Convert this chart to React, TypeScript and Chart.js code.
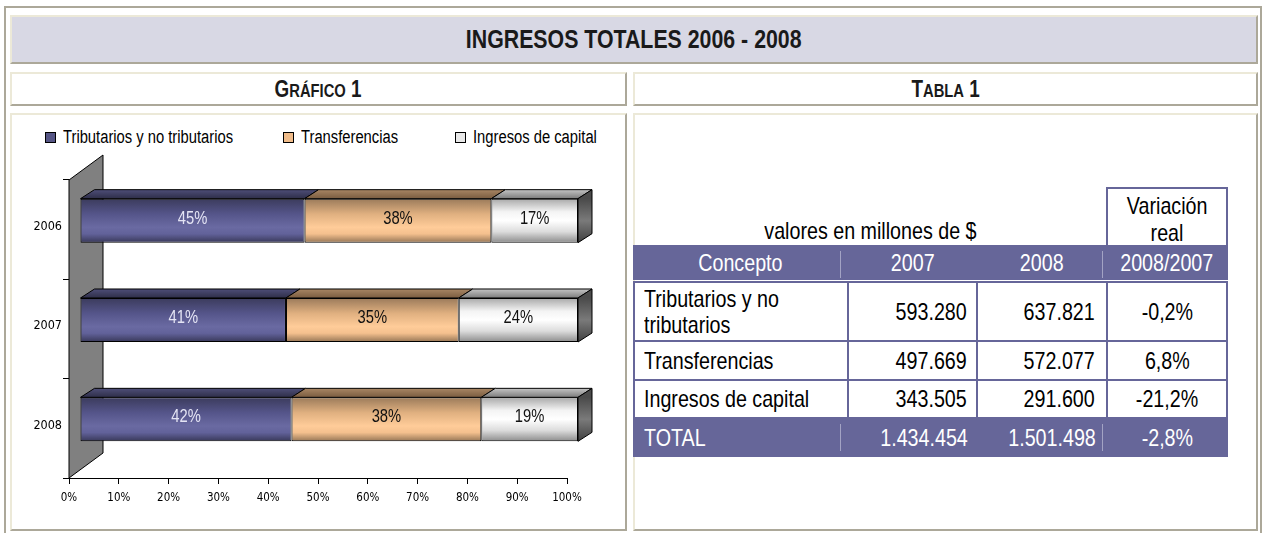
import React, { useEffect, useRef } from 'react';
import { Chart, registerables } from 'chart.js';

Chart.register(...registerables);

// ---------------- data ----------------
const YEARS = ['2006', '2007', '2008'];
const SERIES_NAMES = ['Tributarios y no tributarios', 'Transferencias', 'Ingresos de capital'];
const TRIBUTARIOS_PCT = [45.1, 41.36, 42.48];
const TRANSFERENCIAS_PCT = [37.5, 34.69, 38.1];
const CAPITAL_PCT = [17.4, 23.95, 19.42];
const X_MIN = 0;
const X_MAX = 100;
const X_STEP = 10;

const TABLE_HEAD = ['Concepto', '2007', '2008', '2008/2007'];
const TABLE_CONCEPTS = [['Tributarios y no', 'tributarios'], ['Transferencias'], ['Ingresos de capital']];
const VALUES_2007 = ['593.280', '497.669', '343.505'];
const VALUES_2008 = ['637.821', '572.077', '291.600'];
const VARIATION = ['-0,2%', '6,8%', '-21,2%'];
const TOTAL_ROW = ['TOTAL', '1.434.454', '1.501.498', '-2,8%'];

// ---------------- style ----------------
const SANS = "'Liberation Sans', Arial, sans-serif";
const COND = "'DejaVu Sans Condensed', 'DejaVu Sans', sans-serif";
const SQUEEZE = 0.82; // Arial Narrow ≈ Arial compressed horizontally
const PURPLE = '#666699';
const LIGHT = '#ECE9D8';
const SHADOW = '#ACA899';
const BAR_PCT = 0.443;

const FRONT_STOPS: [number, string][][] = [
  [[0, '#3b3b5c'], [0.35, '#55558a'], [0.65, '#6a6aa2'], [0.8, '#62629a'], [1, '#383858']],
  [[0, '#9a7a5a'], [0.35, '#e0b080'], [0.65, '#ffcc99'], [0.8, '#f4c08e'], [1, '#957555']],
  [[0, '#a8a8a8'], [0.3, '#f4f4f4'], [0.5, '#ffffff'], [0.75, '#dcdcdc'], [1, '#8c8c8c']],
];
const TOP_STOPS: [string, string][] = [
  ['#2e2e48', '#4e4e78'],
  ['#7a5c40', '#a88664'],
  ['#7c7c7c', '#c4c4c4'],
];
const LEGEND_FILL = ['#555585', '#f0bc8a', '#e8e8e8'];
const LABEL_COLORS = ['#e4e4f4', '#111111', '#111111'];

// 3D geometry (pixels)
const SHIFT_X = 11;
const SHIFT_Y = -9;
const DEPTH_X = 14;
const DEPTH_Y = -9;
const WALL_X = 34;
const WALL_Y = -25;

function frontFill(stops: [number, string][]) {
  return (c: any) => {
    const chart = c.chart;
    const ys = chart.scales && chart.scales.y;
    if (!ys || c.dataIndex === undefined || !chart.chartArea) return stops[2][1];
    const center = ys.getPixelForValue(c.dataIndex);
    const half = (ys.height / YEARS.length) * BAR_PCT / 2;
    const g = chart.ctx.createLinearGradient(0, center - half, 0, center + half);
    for (const [o, col] of stops) g.addColorStop(o, col);
    return g;
  };
}

const bar3d = {
  id: 'bar3d',
  beforeDatasetsDraw(chart: any) {
    const { ctx, chartArea: a } = chart;
    ctx.save();
    ctx.beginPath();
    ctx.moveTo(a.left, a.top);
    ctx.lineTo(a.left + WALL_X, a.top + WALL_Y);
    ctx.lineTo(a.left + WALL_X, a.bottom + WALL_Y);
    ctx.lineTo(a.left, a.bottom);
    ctx.closePath();
    ctx.fillStyle = '#808080';
    ctx.fill();
    ctx.strokeStyle = '#000';
    ctx.lineWidth = 1;
    ctx.stroke();
    ctx.restore();
    ctx.save();
    ctx.translate(SHIFT_X, SHIFT_Y);
  },
  afterDatasetsDraw(chart: any) {
    const ctx = chart.ctx;
    const n = chart.data.datasets.length;
    for (let d = 0; d < n; d++) {
      const meta = chart.getDatasetMeta(d);
      meta.data.forEach((bar: any) => {
        const p = bar.getProps(['x', 'y', 'base', 'height'], true);
        const top = p.y - p.height / 2;
        const bottom = p.y + p.height / 2;
        const left = Math.min(p.base, p.x);
        const right = Math.max(p.base, p.x);
        const g = ctx.createLinearGradient(0, top, 0, top + DEPTH_Y);
        g.addColorStop(0, TOP_STOPS[d][0]);
        g.addColorStop(1, TOP_STOPS[d][1]);
        ctx.beginPath();
        ctx.moveTo(left, top);
        ctx.lineTo(left + DEPTH_X, top + DEPTH_Y);
        ctx.lineTo(right + DEPTH_X, top + DEPTH_Y);
        ctx.lineTo(right, top);
        ctx.closePath();
        ctx.fillStyle = g;
        ctx.fill();
        ctx.strokeStyle = '#000';
        ctx.lineWidth = 1;
        ctx.stroke();
        if (d === n - 1) {
          const s = ctx.createLinearGradient(0, top, 0, bottom);
          s.addColorStop(0, '#4a4a4a');
          s.addColorStop(0.5, '#7a7a7a');
          s.addColorStop(1, '#404040');
          ctx.beginPath();
          ctx.moveTo(right, top);
          ctx.lineTo(right + DEPTH_X, top + DEPTH_Y);
          ctx.lineTo(right + DEPTH_X, bottom + DEPTH_Y);
          ctx.lineTo(right, bottom);
          ctx.closePath();
          ctx.fillStyle = s;
          ctx.fill();
          ctx.stroke();
        }
      });
    }
    // value labels (narrow face: Arial metrics squeezed horizontally)
    ctx.font = `18px ${SANS}`;
    ctx.textAlign = 'center';
    ctx.textBaseline = 'middle';
    for (let d = 0; d < n; d++) {
      const meta = chart.getDatasetMeta(d);
      const vals = chart.data.datasets[d].data;
      meta.data.forEach((bar: any, i: number) => {
        const p = bar.getProps(['x', 'y', 'base'], true);
        ctx.save();
        ctx.translate((p.x + p.base) / 2, p.y - 2);
        ctx.scale(SQUEEZE, 1);
        ctx.fillStyle = LABEL_COLORS[d];
        ctx.fillText(Math.round(vals[i]) + '%', 0, 0);
        ctx.restore();
      });
    }
    ctx.restore();
  },
};

function BarChart() {
  const ref = useRef<HTMLCanvasElement | null>(null);
  useEffect(() => {
    if (!ref.current) return;
    const seriesData = [TRIBUTARIOS_PCT, TRANSFERENCIAS_PCT, CAPITAL_PCT];
    const chart = new Chart(ref.current, {
      type: 'bar',
      data: {
        labels: YEARS,
        datasets: seriesData.map((data, i) => ({
          label: SERIES_NAMES[i],
          data,
          backgroundColor: frontFill(FRONT_STOPS[i]),
          borderColor: '#000',
          borderWidth: 1,
          borderSkipped: false,
          barPercentage: BAR_PCT,
          categoryPercentage: 1,
        })),
      },
      options: {
        indexAxis: 'y',
        responsive: false,
        animation: false,
        events: [],
        layout: { padding: { left: 0, right: 58, top: 66, bottom: 12 } },
        plugins: { legend: { display: false }, tooltip: { enabled: false } },
        scales: {
          x: {
            stacked: true,
            min: X_MIN,
            max: X_MAX,
            afterFit: (s: any) => { s.height = 40; },
            ticks: {
              stepSize: X_STEP,
              callback: (v: any) => v + '%',
              color: '#000',
              font: { family: COND, size: 11.5 },
              padding: 7,
              maxRotation: 0,
            },
            grid: { drawOnChartArea: false, color: '#000', tickLength: 6, tickWidth: 1 },
            border: { display: true, color: '#000', width: 1 },
          },
          y: {
            stacked: true,
            afterFit: (s: any) => { s.width = 58; },
            ticks: {
              color: '#000',
              font: { family: COND, size: 12.5 },
              padding: 1,
              labelOffset: -3,
            },
            grid: { drawOnChartArea: false, offset: true, color: '#000', tickLength: 6, tickWidth: 1 },
            border: { display: false },
          },
        },
      },
      plugins: [bar3d],
    });
    return () => chart.destroy();
  }, []);
  return (
    <canvas
      ref={ref}
      width={614}
      height={416}
      style={{ position: 'absolute', left: 11, top: 114, width: 614, height: 416 }}
    />
  );
}

function Narrow(props: { children: any; origin?: string; style?: any }) {
  return (
    <span style={{ display: 'inline-block', whiteSpace: 'nowrap', transform: `scaleX(${SQUEEZE})`, transformOrigin: props.origin || 'center', ...props.style }}>
      {props.children}
    </span>
  );
}

function Box(props: { x: number; y: number; w: number; h: number; bg?: string; children?: any; style?: any }) {
  const { x, y, w, h, bg = '#fff', children, style } = props;
  return (
    <div
      style={{
        position: 'absolute', left: x, top: y, width: w, height: h, boxSizing: 'border-box', background: bg,
        borderTop: `2px solid ${LIGHT}`, borderLeft: `2px solid ${LIGHT}`,
        borderBottom: `2px solid ${SHADOW}`, borderRight: `2px solid ${SHADOW}`,
        display: 'flex', alignItems: 'center', justifyContent: 'center', ...style,
      }}
    >
      {children}
    </div>
  );
}

const LEGEND_X = [45, 283, 455];

function Legend() {
  return (
    <>
      {SERIES_NAMES.map((name, i) => (
        <div key={name} style={{ position: 'absolute', left: LEGEND_X[i], top: 126, height: 22, display: 'flex', alignItems: 'center', fontFamily: SANS, fontSize: 18, color: '#000', whiteSpace: 'nowrap' }}>
          <span style={{ display: 'inline-block', width: 9, height: 9, border: '1px solid #000', background: LEGEND_FILL[i], marginRight: 7 }} />
          <Narrow origin="left">{name}</Narrow>
        </div>
      ))}
    </>
  );
}

const COL_X = [634, 848, 977, 1107, 1227];
const ROW_Y = [282, 341, 380, 418];

function Table() {
  const txt = { fontFamily: SANS, fontSize: 24, lineHeight: '26px', color: '#000' };
  const cells: any[] = [];
  for (let r = 0; r < 3; r++) {
    for (let c = 0; c < 4; c++) {
      const x0 = COL_X[c], x1 = COL_X[c + 1], y0 = ROW_Y[r], y1 = ROW_Y[r + 1];
      const content = c === 0
        ? TABLE_CONCEPTS[r].map((l, k) => <div key={k}><Narrow origin="left">{l}</Narrow></div>)
        : <Narrow origin={c === 3 ? 'center' : 'right'}>{c === 1 ? VALUES_2007[r] : c === 2 ? VALUES_2008[r] : VARIATION[r]}</Narrow>;
      cells.push(
        <div key={r + '-' + c} style={{
          position: 'absolute', left: x0 - 1, top: y0 - 1, width: x1 - x0 + 2, height: y1 - y0 + 2, boxSizing: 'border-box',
          border: `2px solid ${PURPLE}`, display: 'flex', alignItems: 'center',
          justifyContent: c === 0 ? 'flex-start' : c === 3 ? 'center' : 'flex-end',
          paddingLeft: c === 0 ? 9 : 0, paddingRight: c === 1 ? 9 : c === 2 ? 11 : 0, ...txt,
        }}>
          <div>{content}</div>
        </div>,
      );
    }
  }
  const head = { ...txt, color: '#fff' };
  const sep = (x: number, y: number) => (
    <div style={{ position: 'absolute', left: x, top: y, width: 1, height: 27, background: '#a3a3c4' }} />
  );
  return (
    <>
      <div style={{ position: 'absolute', left: 633, top: 188, width: 474, height: 57, display: 'flex', alignItems: 'flex-end', justifyContent: 'center', boxSizing: 'border-box', ...txt }}>
        <Narrow style={{ marginBottom: 1 }}>valores en millones de $</Narrow>
      </div>
      <div style={{ position: 'absolute', left: 1106, top: 187, width: 122, height: 60, boxSizing: 'border-box', borderTop: `2px solid ${PURPLE}`, borderLeft: `2px solid ${PURPLE}`, borderRight: `2px solid ${PURPLE}`, textAlign: 'center', paddingTop: 3, ...txt, lineHeight: '27px' }}>
        <div><Narrow>Variación</Narrow></div>
        <div><Narrow>real</Narrow></div>
      </div>
      <div style={{ position: 'absolute', left: 633, top: 245, width: 595, height: 35, background: PURPLE }} />
      {TABLE_HEAD.map((h, i) => (
        <div key={h} style={{ position: 'absolute', left: i === 0 ? 633 : COL_X[i], top: 245, width: COL_X[i + 1] - (i === 0 ? 633 : COL_X[i]), height: 35, display: 'flex', alignItems: 'center', justifyContent: 'center', ...head }}>
          <Narrow>{h}</Narrow>
        </div>
      ))}
      {sep(840, 251)}
      {sep(1102, 251)}
      {cells}
      <div style={{ position: 'absolute', left: 633, top: 418, width: 595, height: 39, background: PURPLE }} />
      {TOTAL_ROW.map((t, i) => (
        <div key={t} style={{
          position: 'absolute', left: i === 0 ? 633 : COL_X[i], top: 418, width: COL_X[i + 1] - (i === 0 ? 633 : COL_X[i]), height: 39, boxSizing: 'border-box',
          display: 'flex', alignItems: 'center', justifyContent: i === 0 ? 'flex-start' : i === 3 ? 'center' : 'flex-end',
          paddingLeft: i === 0 ? 11 : 0, paddingRight: i === 1 ? 9 : i === 2 ? 11 : 0, ...head,
        }}>
          <Narrow origin={i === 0 ? 'left' : i === 3 ? 'center' : 'right'}>{t}</Narrow>
        </div>
      ))}
      {sep(840, 424)}
      {sep(1102, 424)}
    </>
  );
}

export default function App() {
  return (
    <div style={{ position: 'absolute', left: 0, top: 0, width: 1263, height: 533, overflow: 'hidden', background: '#fff', fontFamily: SANS }}>
      <div style={{ position: 'absolute', left: 4, top: 6, width: 1258, height: 560, boxSizing: 'border-box', borderTop: `2px solid ${SHADOW}`, borderLeft: `2px solid ${SHADOW}`, borderRight: `2px solid ${SHADOW}` }} />
      <Box x={10} y={15} w={1248} h={49} bg="#D8D8E4">
        <Narrow style={{ fontFamily: SANS, fontSize: 26, fontWeight: 'bold', color: '#1a1a1a' }}>INGRESOS TOTALES 2006 - 2008</Narrow>
      </Box>
      <Box x={10} y={72} w={617} h={34}>
        <Narrow style={{ fontFamily: SANS, fontWeight: 'bold', fontSize: 23, color: '#1a1a1a' }}>G<span style={{ fontSize: 18 }}>RÁFICO</span> 1</Narrow>
      </Box>
      <Box x={633} y={72} w={625} h={34}>
        <Narrow style={{ fontFamily: SANS, fontWeight: 'bold', fontSize: 23, color: '#1a1a1a' }}>T<span style={{ fontSize: 18 }}>ABLA</span> 1</Narrow>
      </Box>
      <Box x={10} y={113} w={617} h={418} />
      <Box x={633} y={113} w={625} h={418} />
      <Legend />
      <BarChart />
      <Table />
    </div>
  );
}
